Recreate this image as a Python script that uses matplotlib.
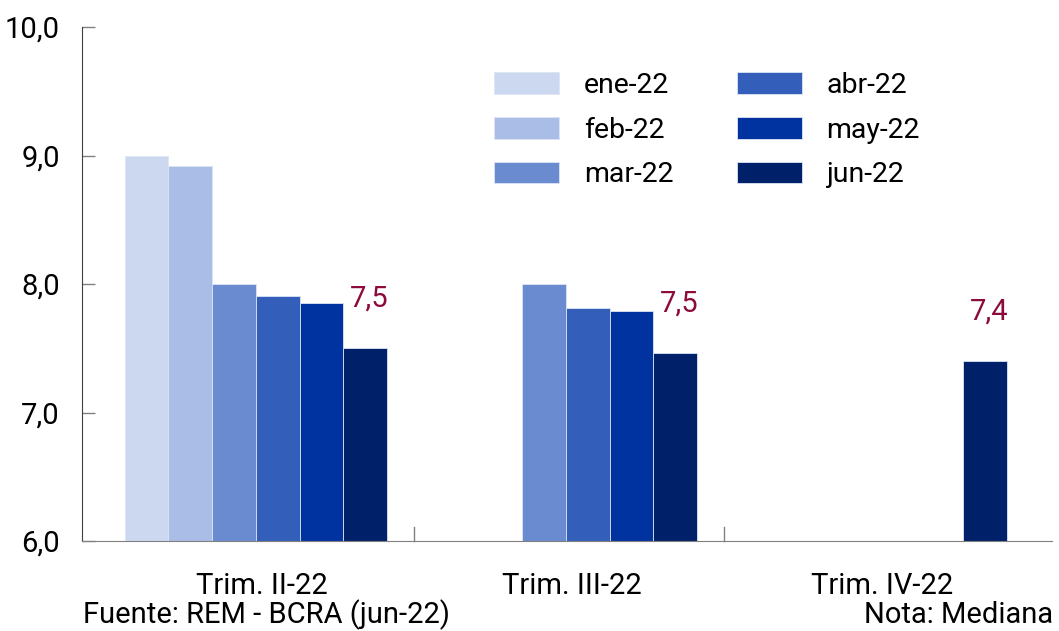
import numpy as np
import matplotlib
matplotlib.use("Agg")
import matplotlib.pyplot as plt

plt.rcParams["font.family"] = ["Roboto", "DejaVu Sans"]

# expected inflation by quarter, one series per survey month
quarters = ["Trim. II-22", "Trim. III-22", "Trim. IV-22"]
surveys = ["ene-22", "feb-22", "mar-22", "abr-22", "may-22", "jun-22"]
ene_22 = [9.00, np.nan, np.nan]
feb_22 = [8.92, np.nan, np.nan]
mar_22 = [8.00, 8.00, np.nan]
abr_22 = [7.91, 7.81, np.nan]
may_22 = [7.85, 7.79, np.nan]
jun_22 = [7.50, 7.46, 7.40]
series = [ene_22, feb_22, mar_22, abr_22, may_22, jun_22]
colors = ["#CCD8F0", "#AABDE6", "#6A8BD0", "#335FBB", "#0033A0", "#002169"]
label_color = "#8C0B3C"

fig = plt.figure(figsize=(10.59, 6.31), dpi=100)
ax = fig.add_axes([0.0774, 0.1426, 0.9160, 0.8146])

x = np.arange(len(quarters))
w = 0.141
offsets = (np.arange(len(surveys)) - (len(surveys) - 1) / 2) * w
for vals, off, c, name in zip(series, offsets, colors, surveys):
    ax.bar(x + off, vals, width=w, bottom=0, color=c, edgecolor="#DDE4F4",
           linewidth=0.6, label=name)

# value labels on the latest survey
for xi, v in zip(x + offsets[-1], jun_22):
    ax.annotate(f"{v:.1f}".replace(".", ","), (xi, v), xytext=(3, 36),
                textcoords="offset points", ha="center", va="center",
                fontsize=21, color=label_color)

ax.set_ylim(6, 10)
ax.set_xlim(-0.561, 2.568)
ax.set_yticks([6, 7, 8, 9, 10])
ax.set_yticklabels([f"{t:.1f}".replace(".", ",") for t in [6, 7, 8, 9, 10]])
ax.tick_params(axis="y", direction="in", length=9, width=1, color="#808080",
               pad=16, labelsize=21)

# category labels, separators between quarters
ax.set_xticks(x + 0.02)
ax.set_xticklabels(quarters)
ax.tick_params(axis="x", length=0, pad=22, labelsize=21)
for b in [0.51, 1.51]:
    ax.plot([b, b], [0, 0.027], transform=ax.get_xaxis_transform(),
            color="#808080", lw=1, clip_on=False)

for s in ["top", "right"]:
    ax.spines[s].set_visible(False)
ax.spines["left"].set_color("#404040")
ax.spines["bottom"].set_color("#808080")

ax.legend(ncol=2, frameon=False, loc="upper left",
          bbox_to_anchor=(0.410, 0.94), fontsize=20.5, borderpad=0,
          handlelength=2.3, handleheight=0.8, handletextpad=0.86,
          columnspacing=2.22, labelspacing=0.62)

fig.text(0.078, 0.026, "Fuente: REM - BCRA (jun-22)", fontsize=21,
         ha="left", va="center")
fig.text(0.994, 0.026, "Nota: Mediana", fontsize=21, ha="right", va="center")

fig.savefig("out.png", dpi=100)
